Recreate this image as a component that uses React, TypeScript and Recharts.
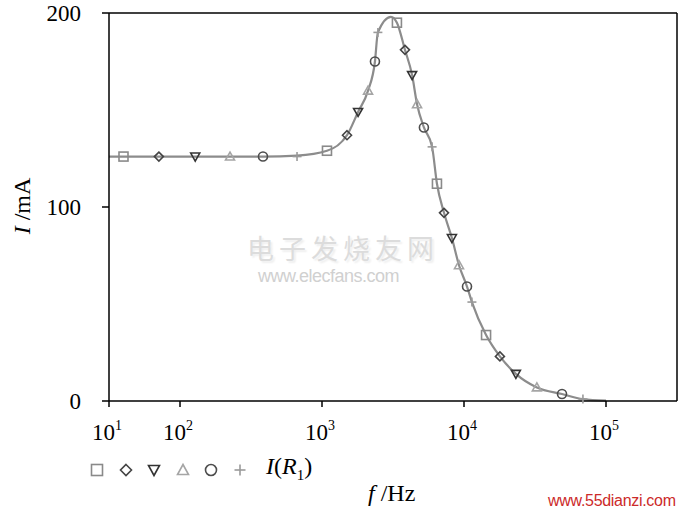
import { ComposedChart, Line, Scatter, XAxis, YAxis, ReferenceLine } from 'recharts'

// curve (f in Hz, I in mA)
const curveF = [31.6, 40, 71, 128, 225, 384, 667, 1084, 1500, 1795, 2110, 2360, 2475, 3060, 3370, 3840, 4310, 4670, 5220, 5960, 6450, 7230, 8220, 9220, 10500, 11370, 14300, 17900, 23200, 32600, 49000, 68800, 100000]
const curveI = [126, 126, 126, 126, 126, 126, 126.5, 129, 137, 149, 160, 175, 190, 198, 195, 181, 168, 153, 141, 131, 112, 97, 84, 70, 59, 51, 34, 23, 14, 7, 3.6, 1, 0.2]

// marker series
const squareF = [40, 1084, 3370, 6450, 14300]
const squareI = [126, 129, 195, 112, 34]
const diamondF = [71, 1500, 3840, 7230, 17900]
const diamondI = [126, 137, 181, 97, 23]
const triDownF = [128, 1795, 4310, 8220, 23200]
const triDownI = [126, 149, 168, 84, 14]
const triUpF = [225, 2110, 4670, 9220, 32600]
const triUpI = [126, 160, 153, 70, 7]
const circleF = [384, 2360, 5220, 10500, 49000]
const circleI = [126, 175, 141, 59, 3.6]
const plusF = [667, 2475, 5960, 11370, 68800]
const plusI = [126, 190, 131, 51, 1]

const xTicks = [31.62, 100, 1000, 10000, 100000]
const xExp = ['1', '2', '3', '4', '5']
const yTicks = [0, 100, 200]

const zip = (f: number[], i: number[]) => f.map((v, k) => ({ f: v, i: i[k] }))

const serif = '"Liberation Serif", "Times New Roman", serif'

type Kind = 'square' | 'diamond' | 'triDown' | 'triUp' | 'circle' | 'plus'

const colors: Record<Kind, string> = {
  square: '#8a8a8a',
  diamond: '#444',
  triDown: '#333',
  triUp: '#a5a5a5',
  circle: '#4d4d4d',
  plus: '#9a9a9a',
}

function marker(kind: Kind, cx: number, cy: number, r = 4.5) {
  const c = colors[kind]
  const common = { fill: 'none', stroke: c, strokeWidth: 1.6 }
  switch (kind) {
    case 'square':
      return <rect x={cx - r} y={cy - r} width={2 * r} height={2 * r} {...common} />
    case 'diamond':
      return <polygon points={`${cx},${cy - r} ${cx + r},${cy} ${cx},${cy + r} ${cx - r},${cy}`} {...common} />
    case 'triDown':
      return <polygon points={`${cx - r},${cy - r + 1} ${cx + r},${cy - r + 1} ${cx},${cy + r}`} {...common} />
    case 'triUp':
      return <polygon points={`${cx - r},${cy + r - 1} ${cx + r},${cy + r - 1} ${cx},${cy - r}`} {...common} />
    case 'circle':
      return <circle cx={cx} cy={cy} r={r} {...common} />
    default:
      return (
        <g stroke={c} strokeWidth={1.6}>
          <line x1={cx - r} y1={cy} x2={cx + r} y2={cy} />
          <line x1={cx} y1={cy - r} x2={cx} y2={cy + r} />
        </g>
      )
  }
}

const shapeFor = (kind: Kind) => (p: any) => marker(kind, p.cx, p.cy)

const XTick = (p: any) => (
  <text x={p.x - 2} y={p.y + 31} textAnchor="middle" fontFamily={serif} fontSize={23} fill="#000">
    10<tspan dy={-10} fontSize={14}>{xExp[p.index]}</tspan>
  </text>
)

const YTick = (p: any) => (
  <text x={81} y={p.y} dy="0.35em" textAnchor="end" fontFamily={serif} fontSize={23} fill="#000">
    {p.payload.value}
  </text>
)

const legendKinds: Kind[] = ['square', 'diamond', 'triDown', 'triUp', 'circle', 'plus']
const legendX = [97, 126, 154, 183, 211, 240]

export default function App() {
  return (
    <div style={{ position: 'absolute', left: 0, top: 0, width: 683, height: 512, background: '#fff' }}>
      <div style={{ position: 'absolute', left: 247, top: 228, fontFamily: '"Noto Sans CJK SC"', fontSize: 27, color: '#dcdcdc', letterSpacing: 5, whiteSpace: 'nowrap', textShadow: '2px 2px 2px #eee' }}>
        电子发烧友网
      </div>
      <div style={{ position: 'absolute', left: 258, top: 266, fontFamily: '"Liberation Sans", sans-serif', fontSize: 18, color: '#d0d0d0', whiteSpace: 'nowrap', letterSpacing: -0.5 }}>
        www.elecfans.com
      </div>
      <ComposedChart width={683} height={512} margin={{ top: 13, right: 6, bottom: 0, left: 0 }} style={{ position: 'absolute', left: 0, top: 0 }}>
        <XAxis
          dataKey="f"
          type="number"
          scale="log"
          domain={[31.62, 316228]}
          allowDataOverflow
          ticks={xTicks}
          tick={<XTick />}
          tickSize={6}
          height={111}
          stroke="#000"
          strokeWidth={1.5}
          tickLine={{ stroke: '#000', strokeWidth: 1.5 }}
        />
        <YAxis
          dataKey="i"
          type="number"
          domain={[0, 200]}
          ticks={yTicks}
          tick={<YTick />}
          tickSize={7}
          width={109}
          stroke="#000"
          strokeWidth={1.5}
          tickLine={{ stroke: '#000', strokeWidth: 1.5 }}
        />
        <ReferenceLine y={200} stroke="#000" strokeWidth={1.5} />
        <ReferenceLine x={316228} stroke="#000" strokeWidth={1.5} />
        <Line data={zip(curveF, curveI)} dataKey="i" type="monotone" stroke="#8c8c8c" strokeWidth={2.2} dot={false} isAnimationActive={false} />
        <Scatter data={zip(squareF, squareI)} dataKey="i" shape={shapeFor('square')} isAnimationActive={false} />
        <Scatter data={zip(diamondF, diamondI)} dataKey="i" shape={shapeFor('diamond')} isAnimationActive={false} />
        <Scatter data={zip(triDownF, triDownI)} dataKey="i" shape={shapeFor('triDown')} isAnimationActive={false} />
        <Scatter data={zip(triUpF, triUpI)} dataKey="i" shape={shapeFor('triUp')} isAnimationActive={false} />
        <Scatter data={zip(circleF, circleI)} dataKey="i" shape={shapeFor('circle')} isAnimationActive={false} />
        <Scatter data={zip(plusF, plusI)} dataKey="i" shape={shapeFor('plus')} isAnimationActive={false} />
      </ComposedChart>
      <svg width={260} height={24} style={{ position: 'absolute', left: 0, top: 458 }}>
        {legendKinds.map((k, n) => <g key={k}>{marker(k, legendX[n], 12, 5.5)}</g>)}
      </svg>
      <div style={{ position: 'absolute', left: 266, top: 453, fontFamily: serif, fontSize: 24, whiteSpace: 'nowrap' }}>
        <i>I</i>(<i>R</i><sub style={{ fontSize: 15 }}>1</sub>)
      </div>
      <div style={{ position: 'absolute', left: 368, top: 480, fontFamily: serif, fontSize: 24, whiteSpace: 'nowrap' }}>
        <i>f</i> /Hz
      </div>
      <div style={{ position: 'absolute', left: 22, top: 206, transform: 'translate(-50%, -50%) rotate(-90deg)', fontFamily: serif, fontSize: 24, whiteSpace: 'nowrap' }}>
        <i>I</i> /mA
      </div>
      <div style={{ position: 'absolute', left: 548, top: 492, fontFamily: '"Liberation Sans", sans-serif', fontSize: 16, color: '#cc2a2a', whiteSpace: 'nowrap', letterSpacing: -0.3 }}>
        www.55dianzi.com
      </div>
    </div>
  )
}
